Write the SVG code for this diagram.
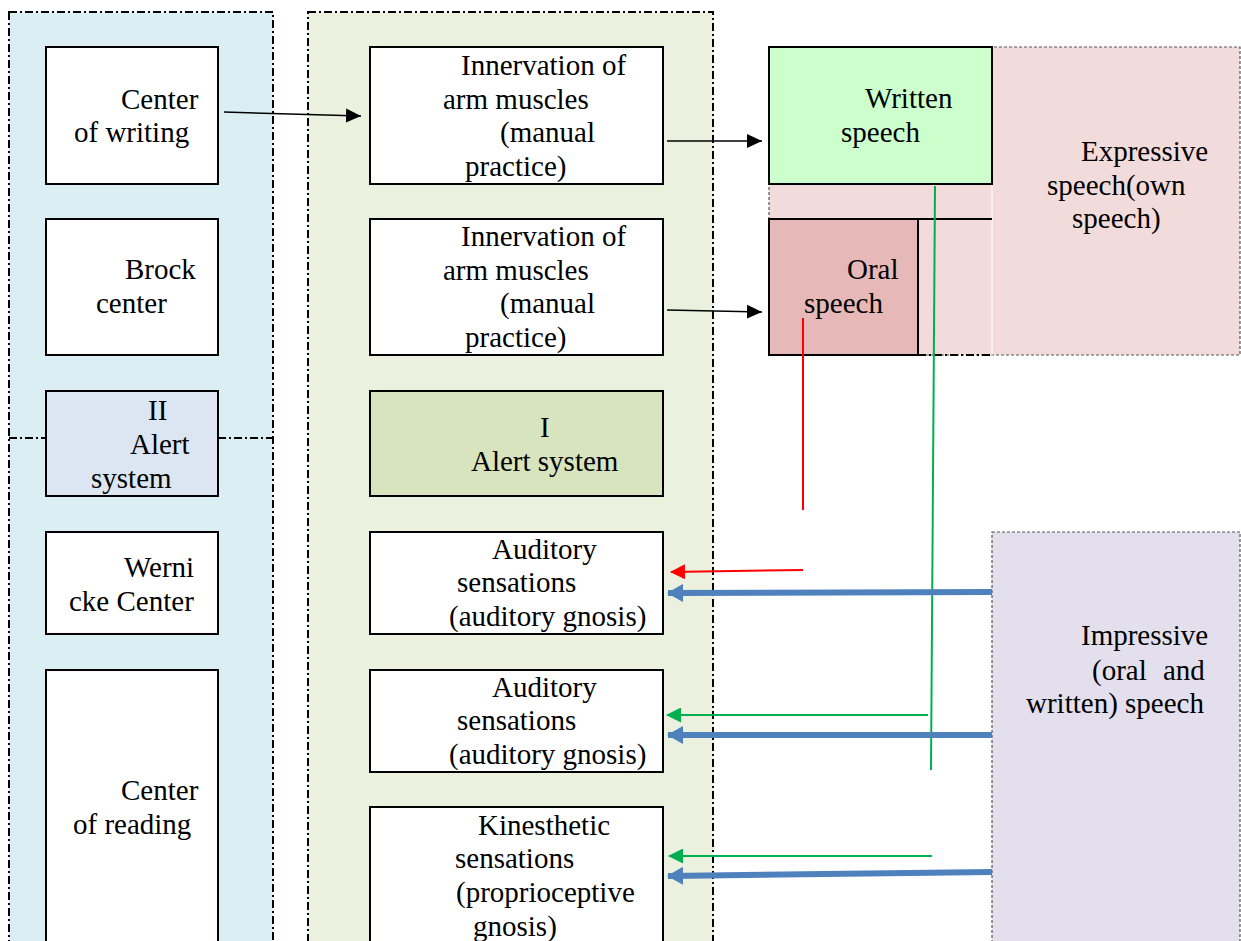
<svg xmlns="http://www.w3.org/2000/svg" width="1241" height="941" viewBox="0 0 1241 941" font-family="'Liberation Serif', 'DejaVu Serif', serif" font-size="29">
<style>
.t{font-family:'Liberation Serif','Times New Roman','DejaVu Serif',serif;font-size:29px;fill:#000}
.panel{stroke:#000;stroke-width:2;stroke-dasharray:8 3 2 3}
.box{stroke:#000;stroke-width:2}
.dash{stroke:#555;stroke-width:1.2;stroke-dasharray:3 2}
.blk{stroke:#000;stroke-width:1.5;fill:none}
.red{stroke:#FF0000;stroke-width:2;fill:none}
.grn{stroke:#00B050;stroke-width:2;fill:none}
.blu{stroke:#4F81BD;stroke-width:6;fill:none}
</style>
<defs>
<marker id="ab" markerWidth="16" markerHeight="15" refX="15" refY="7.5" orient="auto" markerUnits="userSpaceOnUse"><path d="M0,0.5 L15,7.5 L0,14.5 z" fill="#000"/></marker>
<marker id="ar" markerWidth="15" markerHeight="15" refX="14" refY="7.5" orient="auto" markerUnits="userSpaceOnUse"><path d="M0,0 L15,7.5 L0,15 z" fill="#FF0000"/></marker>
<marker id="ag" markerWidth="15" markerHeight="15" refX="14" refY="7.5" orient="auto" markerUnits="userSpaceOnUse"><path d="M0,0 L15,7.5 L0,15 z" fill="#00B050"/></marker>
<marker id="au" markerWidth="16" markerHeight="18" refX="15" refY="9" orient="auto" markerUnits="userSpaceOnUse"><path d="M0,0 L16,9 L0,18 z" fill="#4F81BD"/></marker>
</defs>
<rect width="1241" height="941" fill="#fff"/>

<g id="panel-left">
<rect x="9" y="12" width="264" height="940" fill="#DAEEF3" class="panel"/>
<line x1="9" y1="438" x2="46" y2="438" class="panel"/>
<line x1="218" y1="438" x2="273" y2="438" class="panel"/>
</g>
<g id="panel-mid">
<rect x="308" y="12" width="405" height="940" fill="#EBF1DE" class="panel"/>
</g>
<g id="expressive">
<rect x="769" y="47" width="471" height="308" fill="#F2DCDB" class="dash"/>
<line x1="992" y1="185" x2="992" y2="355" stroke="#fff" stroke-width="1"/>
<line x1="918" y1="355" x2="992" y2="355" class="panel"/>
<text class="t" x="1081" y="161">Expressive</text>
<text class="t" x="1047" y="195">speech(own</text>
<text class="t" x="1072" y="228">speech)</text>
</g>
<g id="impressive">
<rect x="992" y="532" width="248" height="420" fill="#E4DFEC" class="dash"/>
<text class="t" x="1081" y="645">Impressive</text>
<text class="t" x="1092" y="680">(oral<tspan x="1163">and</tspan></text>
<text class="t" x="1026" y="713">written) speech</text>
</g>

<g id="center-writing">
<rect x="46" y="47" width="172" height="137" fill="#fff" class="box"/>
<text class="t" x="121" y="109">Center</text>
<text class="t" x="74" y="142">of writing</text>
</g>
<g id="brock">
<rect x="46" y="219" width="172" height="136" fill="#fff" class="box"/>
<text class="t" x="125" y="279">Brock</text>
<text class="t" x="96" y="313">center</text>
</g>
<g id="alert-2">
<rect x="46" y="391" width="172" height="105" fill="#DCE6F2" class="box"/>
<text class="t" x="148" y="420">II</text>
<text class="t" x="130" y="454">Alert</text>
<text class="t" x="91" y="488">system</text>
</g>
<g id="wernicke">
<rect x="46" y="532" width="172" height="102" fill="#fff" class="box"/>
<text class="t" x="124" y="577">Werni</text>
<text class="t" x="69" y="611">cke Center</text>
</g>
<g id="center-reading">
<rect x="46" y="670" width="172" height="290" fill="#fff" class="box"/>
<text class="t" x="121" y="800">Center</text>
<text class="t" x="73" y="834">of reading</text>
</g>

<g id="innervation-1">
<rect x="370" y="47" width="293" height="137" fill="#fff" class="box"/>
<text class="t" x="461" y="75">Innervation of</text>
<text class="t" x="443" y="109">arm muscles</text>
<text class="t" x="500" y="142">(manual</text>
<text class="t" x="465" y="176">practice)</text>
</g>
<g id="innervation-2">
<rect x="370" y="219" width="293" height="136" fill="#fff" class="box"/>
<text class="t" x="461" y="246">Innervation of</text>
<text class="t" x="443" y="280">arm muscles</text>
<text class="t" x="500" y="313">(manual</text>
<text class="t" x="465" y="347">practice)</text>
</g>
<g id="alert-1">
<rect x="370" y="391" width="293" height="105" fill="#D7E4BD" class="box"/>
<text class="t" x="540" y="437">I</text>
<text class="t" x="471" y="471">Alert system</text>
</g>
<g id="auditory-1">
<rect x="370" y="532" width="293" height="102" fill="#fff" class="box"/>
<text class="t" x="492" y="559">Auditory</text>
<text class="t" x="457" y="592">sensations</text>
<text class="t" x="449" y="626">(auditory gnosis)</text>
</g>
<g id="auditory-2">
<rect x="370" y="670" width="293" height="102" fill="#fff" class="box"/>
<text class="t" x="492" y="697">Auditory</text>
<text class="t" x="457" y="730">sensations</text>
<text class="t" x="449" y="764">(auditory gnosis)</text>
</g>
<g id="kinesthetic">
<rect x="370" y="807" width="293" height="150" fill="#fff" class="box"/>
<text class="t" x="478" y="835">Kinesthetic</text>
<text class="t" x="455" y="868">sensations</text>
<text class="t" x="456" y="902">(proprioceptive</text>
<text class="t" x="473" y="936">gnosis)</text>
</g>

<g id="written-speech">
<rect x="769" y="47" width="223" height="137" fill="#CCFFCC" class="box"/>
<text class="t" x="865" y="108">Written</text>
<text class="t" x="841" y="142">speech</text>
</g>
<g id="oral-speech">
<rect x="769" y="219" width="149" height="136" fill="#E6B9B8" class="box"/>
<line x1="918" y1="219" x2="992" y2="219" class="box"/>
<text class="t" x="847" y="279">Oral</text>
<text class="t" x="804" y="313">speech</text>
</g>

<g id="connectors">
<line x1="224" y1="112" x2="361" y2="116" class="blk" marker-end="url(#ab)"/>
<line x1="667" y1="141" x2="762" y2="141" class="blk" marker-end="url(#ab)"/>
<line x1="667" y1="310" x2="762" y2="312" class="blk" marker-end="url(#ab)"/>
<line x1="803" y1="318" x2="803" y2="510" class="red"/>
<line x1="803" y1="570" x2="671" y2="572" class="red" marker-end="url(#ar)"/>
<line x1="935" y1="186" x2="931" y2="770" class="grn"/>
<line x1="928" y1="715" x2="667" y2="715" class="grn" marker-end="url(#ag)"/>
<line x1="932" y1="856" x2="669" y2="856" class="grn" marker-end="url(#ag)"/>
<line x1="992" y1="592" x2="668" y2="593" class="blu" marker-end="url(#au)"/>
<line x1="992" y1="735" x2="668" y2="735" class="blu" marker-end="url(#au)"/>
<line x1="992" y1="872" x2="668" y2="876" class="blu" marker-end="url(#au)"/>
</g>
</svg>
